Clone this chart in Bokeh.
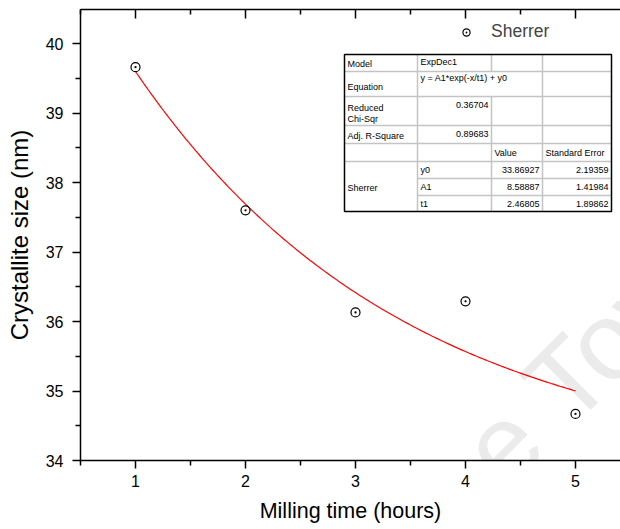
import numpy as np
from bokeh.plotting import figure
from bokeh.models import (LinearAxis, Range1d, FixedTicker, Label, Legend,
                          LegendItem, ColumnDataSource)
from bokeh.core.properties import value
from bokeh.embed import file_html
from bokeh.resources import INLINE

# Measured crystallite size vs. milling time
milling_hours = [1, 2, 3, 4, 5]
crystallite_nm = [39.66, 37.60, 36.13, 36.29, 34.67]

# ExpDec1 fit: y = A1*exp(-x/t1) + y0
fit_names = ["y0", "A1", "t1"]
fit_values = [33.86927, 8.58887, 2.46805]
fit_errors = [2.19359, 1.41984, 1.89862]
reduced_chi_sqr = 0.36704
adj_r_square = 0.89683

y_ticks = [34, 35, 36, 37, 38, 39, 40]
x_ticks = [1, 2, 3, 4, 5]

FONT = "Liberation Sans"

# frame geometry (pixels) and the ranges it spans
LEFT, TOP, FW, FH = 80, 9, 540, 451
X0, X1 = 0.5, 0.5 + FW / 110.0
Y0, Y1 = 34.0, 34.0 + FH / 69.5


def dx(px):
    return X0 + (px - LEFT) / FW * (X1 - X0)


def dy(py):
    return Y0 + (TOP + FH - py) / FH * (Y1 - Y0)


p = figure(frame_width=FW, frame_height=FH,
           x_range=Range1d(X0, X1), y_range=Range1d(Y0, Y1),
           output_backend="svg", toolbar_location=None,
           min_border_left=LEFT, min_border_top=TOP,
           min_border_bottom=529 - TOP - FH, min_border_right=0,
           background_fill_color="white", border_fill_color="white")
p.outline_line_color = None
p.grid.visible = False

# watermark
p.add_layout(Label(x=dx(380), y=dy(652), text="Cape Town", angle=45,
                   angle_units="deg", text_font=FONT, text_font_size="110px",
                   text_color="#ebebeb", level="underlay"))


def style_axis(ax, inward=False):
    ax.axis_line_width = 1.5
    ax.axis_line_color = "black"
    ax.major_tick_line_width = 1.5
    ax.minor_tick_line_width = 1.5
    ax.major_tick_line_color = "black"
    ax.minor_tick_line_color = "black"
    if inward:
        ax.major_tick_in, ax.major_tick_out = 9, 0
        ax.minor_tick_in, ax.minor_tick_out = 5, 0
    else:
        ax.major_tick_in, ax.major_tick_out = 0, 8
        ax.minor_tick_in, ax.minor_tick_out = 0, 5
    ax.major_label_text_font = FONT
    ax.major_label_text_font_size = "16px"
    ax.major_label_text_color = "black"
    ax.axis_label_text_font = FONT
    ax.axis_label_text_font_style = "normal"
    ax.axis_label_text_color = "black"


x_minor = [t - 0.5 for t in x_ticks] + [x_ticks[-1] + 0.5]
xt = FixedTicker(ticks=x_ticks, minor_ticks=x_minor)
yt = FixedTicker(ticks=y_ticks, minor_ticks=[t + 0.5 for t in y_ticks[:-1]])

xa = p.xaxis[0]
xa.ticker = xt
style_axis(xa)
xa.axis_label = "Milling time (hours)"
xa.axis_label_text_font_size = "21.5px"
xa.major_label_standoff = 6
xa.axis_label_standoff = 9

ya = p.yaxis[0]
ya.ticker = yt
style_axis(ya)
ya.axis_label = "Crystallite size (nm)"
ya.axis_label_text_font_size = "24px"
ya.major_label_standoff = 9
ya.axis_label_standoff = 10

# top border: minor ticks from the axis, major ticks as short inward strokes
top_axis = LinearAxis(ticker=FixedTicker(ticks=[], minor_ticks=x_minor))
style_axis(top_axis, inward=True)
p.add_layout(top_axis, "above")
tick_len = (Y1 - Y0) * 9 / FH
p.segment(x0=x_ticks, x1=x_ticks, y0=[Y1] * len(x_ticks),
          y1=[Y1 - tick_len] * len(x_ticks), line_color="black",
          line_width=1.5)

# fitted curve from the parameters listed in the table
y0_fit, a1_fit, t1_fit = fit_values
xf = np.linspace(milling_hours[0], milling_hours[-1], 200)
yf = a1_fit * np.exp(-xf / t1_fit) + y0_fit
p.line(xf, yf, line_color="red", line_width=1.2)

src = ColumnDataSource(dict(x=milling_hours, y=crystallite_nm))
pts = p.scatter("x", "y", source=src, marker="circle_dot", size=9,
                line_color="black", fill_color=None, line_width=1.2)

legend = Legend(items=[LegendItem(label="Sherrer", renderers=[pts])],
                location=(377, FH - 33), padding=0, margin=0, glyph_width=18,
                glyph_height=20, label_standoff=16, label_text_font=FONT,
                label_text_font_size="17.5px", border_line_color=None,
                background_fill_alpha=0)
p.add_layout(legend)

# ---- fit-report table ----
cols = [344, 417, 491, 542, 611]
rows = [54, 71, 96, 125, 143, 161, 178, 195, 211]

p.quad(left=dx(cols[0]), right=dx(cols[-1]), top=dy(rows[0]),
       bottom=dy(rows[-1]), fill_color="white", line_color=None)

grey_h = [(rows[1], cols[0]), (rows[2], cols[0]), (rows[3], cols[0]),
          (rows[4], cols[0]), (rows[5], cols[0]), (rows[6], cols[1]),
          (rows[7], cols[1])]
p.segment(x0=[dx(c) for _, c in grey_h], x1=[dx(cols[-1])] * len(grey_h),
          y0=[dy(r) for r, _ in grey_h], y1=[dy(r) for r, _ in grey_h],
          line_color="#c4c4c4", line_width=1.5)
grey_v = [(cols[1], rows[0], rows[-1]), (cols[2], rows[0], rows[1]),
          (cols[2], rows[2], rows[-1]), (cols[3], rows[0], rows[-1])]
p.segment(x0=[dx(c) for c, _, _ in grey_v], x1=[dx(c) for c, _, _ in grey_v],
          y0=[dy(a) for _, a, _ in grey_v], y1=[dy(b) for _, _, b in grey_v],
          line_color="#c4c4c4", line_width=1.5)
p.quad(left=dx(cols[0]), right=dx(cols[-1]), top=dy(rows[0]),
       bottom=dy(rows[-1]), fill_color=None, line_color="black",
       line_width=1.5)

left_text = [
    ("Model", 347, 63), ("ExpDec1", 420, 61), ("Equation", 347, 86),
    ("y = A1*exp(-x/t1) + y0", 420, 77), ("Reduced", 347, 107),
    ("Chi-Sqr", 347, 118), ("Adj. R-Square", 347, 135), ("Value", 494, 152),
    ("Standard Error", 545, 152), ("Sherrer", 347, 187),
]
row_y = [169, 186, 203]
left_text += [(n, 420, yy) for n, yy in zip(fit_names, row_y)]
right_text = [(f"{reduced_chi_sqr:.5f}", 488, 104), (f"{adj_r_square:.5f}", 488, 133)]
right_text += [(f"{v:.5f}", 539, yy) for v, yy in zip(fit_values, row_y)]
right_text += [(f"{e:.5f}", 608, yy) for e, yy in zip(fit_errors, row_y)]

p.text(x=[dx(t[1]) for t in left_text], y=[dy(t[2]) for t in left_text],
       text=[t[0] for t in left_text], text_font=value(FONT),
       text_font_size="9px", text_baseline="middle", text_align="left",
       text_color="black")
p.text(x=[dx(t[1]) for t in right_text], y=[dy(t[2]) for t in right_text],
       text=[t[0] for t in right_text], text_font=value(FONT),
       text_font_size="9px", text_baseline="middle", text_align="right",
       text_color="black")

open("out.html", "w").write(file_html(p, INLINE))
